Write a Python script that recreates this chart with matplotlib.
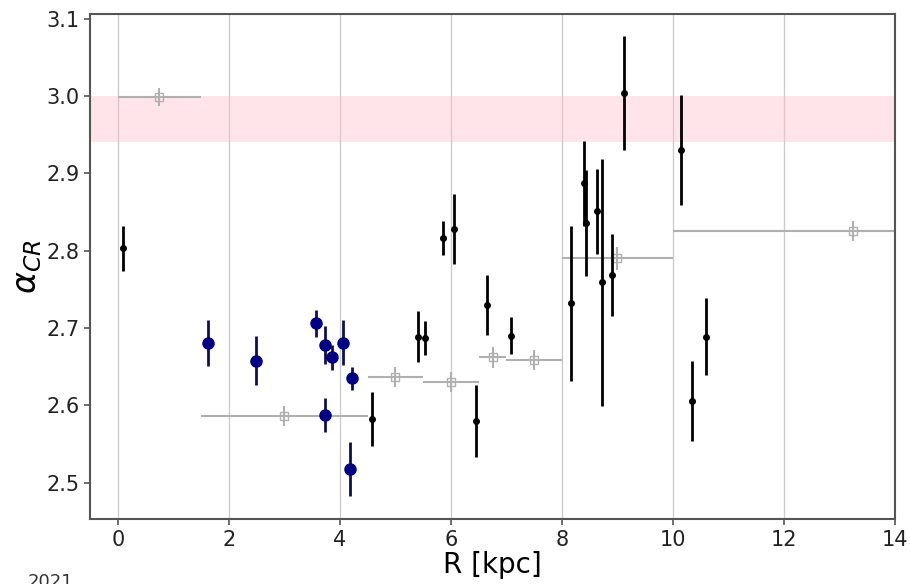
import matplotlib
matplotlib.use('Agg')
from matplotlib import pyplot as plt

# blue points (inner Galaxy)
blue_r = [1.63, 2.49, 3.57, 3.74, 3.85, 4.06, 4.22, 3.74, 4.19]
blue_a = [2.681, 2.658, 2.706, 2.678, 2.662, 2.681, 2.635, 2.588, 2.518]
blue_e = [0.030, 0.032, 0.018, 0.025, 0.016, 0.029, 0.015, 0.022, 0.035]

# black points
black_r = [0.10, 4.58, 5.40, 5.54, 5.85, 6.05, 6.45, 6.65, 7.08, 8.17,
           8.40, 8.43, 8.64, 8.73, 8.91, 9.12, 10.14, 10.35, 10.59]
black_a = [2.803, 2.582, 2.689, 2.687, 2.817, 2.828, 2.580, 2.730, 2.690, 2.732,
           2.887, 2.836, 2.851, 2.759, 2.768, 3.004, 2.930, 2.606, 2.689]
black_e = [0.029, 0.035, 0.033, 0.022, 0.022, 0.045, 0.047, 0.039, 0.024, 0.100,
           0.055, 0.069, 0.055, 0.160, 0.053, 0.074, 0.071, 0.052, 0.050]

# binned averages (grey)
bin_r = [0.75, 3.0, 5.0, 6.0, 6.75, 7.5, 9.0, 13.25]
bin_lo = [0.0, 1.5, 4.5, 5.5, 6.5, 7.0, 8.0, 10.0]
bin_hi = [1.5, 4.5, 5.5, 6.5, 7.0, 8.0, 10.0, 16.5]
bin_a = [2.999, 2.586, 2.637, 2.630, 2.662, 2.659, 2.790, 2.826]
bin_e = [0.012, 0.013, 0.013, 0.013, 0.013, 0.013, 0.015, 0.013]

band = (2.94, 3.00)

fig = plt.figure(figsize=(9.1, 5.84), dpi=100)
ax = fig.add_axes([0.099, 0.111, 0.8845, 0.865])

ax.axhspan(band[0], band[1], color='pink', alpha=0.4, lw=0, zorder=1)

xerr = [[c - lo for c, lo in zip(bin_r, bin_lo)],
        [hi - c for c, hi in zip(bin_r, bin_hi)]]
ax.errorbar(bin_r, bin_a, xerr=xerr, yerr=bin_e, fmt='s', color='#b0b0b0',
            mfc='none', mec='#b0b0b0', ms=6, lw=1.5, zorder=2)

ax.errorbar(black_r, black_a, yerr=black_e, fmt='o', color='black', ms=4,
            lw=2, zorder=3)
ax.errorbar(blue_r, blue_a, yerr=blue_e, fmt='o', color='navy', ecolor='#101050',
            ms=8, lw=2, zorder=4)

ax.set_xlim(-0.5, 14)
ax.set_ylim(2.453, 3.106)
ax.set_xticks(range(0, 15, 2))
ax.set_yticks([2.5, 2.6, 2.7, 2.8, 2.9, 3.0, 3.1])
ax.grid(axis='x', color='#cccccc', lw=1)
ax.set_axisbelow(True)

for s in ax.spines.values():
    s.set_color('#555555')
    s.set_linewidth(1.5)
ax.tick_params(labelsize=15, color='#555555', length=4, width=1.2,
               labelcolor='#222222')

ax.set_xlabel('R [kpc]', fontsize=20, labelpad=1)
ax.set_ylabel(r'$\alpha_{CR}$', fontsize=24, labelpad=2)

fig.text(0.03, 0.018, '2021', fontsize=13, va='top', color='#333333')

plt.savefig('out.png', dpi=100)
